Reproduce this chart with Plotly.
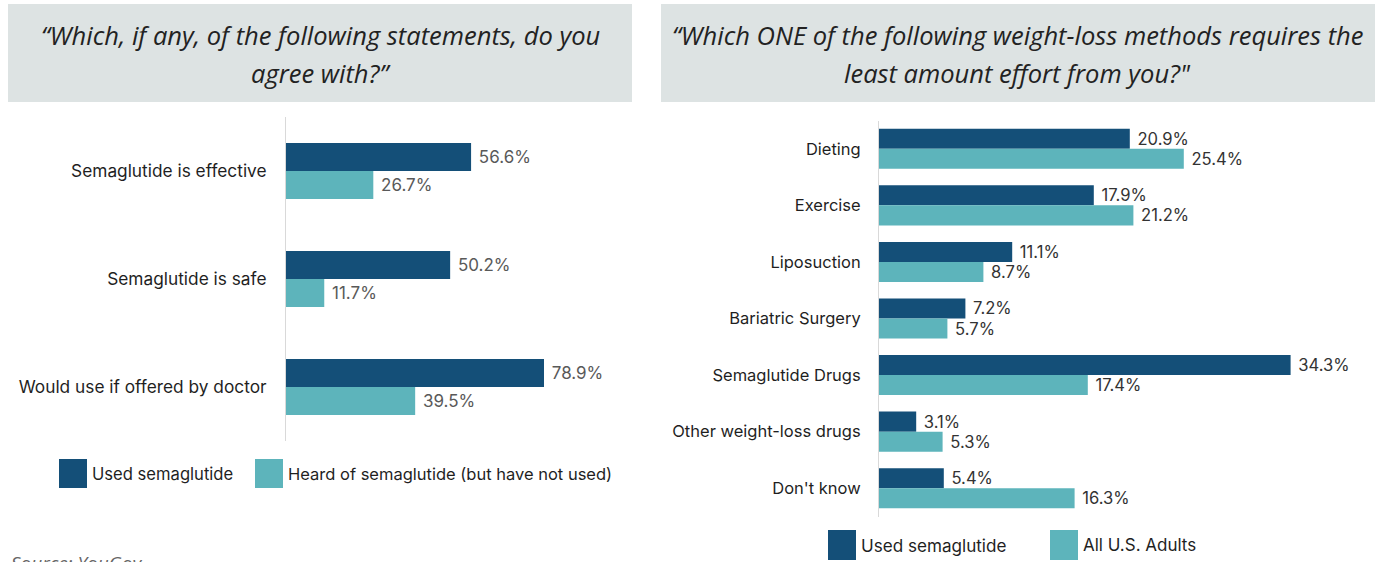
import plotly.graph_objects as go

# ---- data ----
left_categories = ["Semaglutide is effective", "Semaglutide is safe", "Would use if offered by doctor"]
left_used = [56.6, 50.2, 78.9]
left_heard = [26.7, 11.7, 39.5]
left_series_names = ["Used semaglutide", "Heard of semaglutide (but have not used)"]

right_categories = ["Dieting", "Exercise", "Liposuction", "Bariatric Surgery",
                    "Semaglutide Drugs", "Other weight-loss drugs", "Don't know"]
right_used = [20.9, 17.9, 11.1, 7.2, 34.3, 3.1, 5.4]
right_adults = [25.4, 21.2, 8.7, 5.7, 17.4, 5.3, 16.3]
right_series_names = ["Used semaglutide", "All U.S. Adults"]

left_title = ["\u201cWhich, if any, of the following statements, do you", "agree with?\u201d"]
right_title = ["\u201cWhich ONE of the following weight-loss methods requires the",
               "least amount effort from you?\""]
source_text = "Source: YouGov"

# ---- styling ----
W, H = 1383, 562
DARK = "#144f78"
LIGHT = "#5db4bb"
HEADER_BG = "#dde3e3"
LABEL_FONT = "Inter"
TITLE_FONT = "Open Sans"
VALUE_FMT = "\u00a0%{x:.1f}%"


def px_x(x):
    return x / W


def px_y(y):
    return 1 - y / H


fig = go.Figure()

# left panel bars: each bar 28px on a 108px category band
lw = 28 / 108
left_value_font = dict(family=LABEL_FONT, size=17, color="#595959")
fig.add_trace(go.Bar(
    y=left_categories, x=left_used, orientation="h", name=left_series_names[0],
    marker=dict(color=DARK, line=dict(width=0)), width=lw, offset=-lw,
    texttemplate=VALUE_FMT, textposition="outside",
    textfont=left_value_font, cliponaxis=False,
    xaxis="x", yaxis="y", showlegend=False))
fig.add_trace(go.Bar(
    y=left_categories, x=left_heard, orientation="h", name=left_series_names[1],
    marker=dict(color=LIGHT, line=dict(width=0)), width=lw, offset=0,
    texttemplate=VALUE_FMT, textposition="outside",
    textfont=left_value_font, cliponaxis=False,
    xaxis="x", yaxis="y", showlegend=False))

# right panel bars: each bar 20px on a 56.5px category band
rw = 20 / 56.5
right_value_font = dict(family=LABEL_FONT, size=16.6, color="#333333")
fig.add_trace(go.Bar(
    y=right_categories, x=right_used, orientation="h", name=right_series_names[0],
    marker=dict(color=DARK, line=dict(width=0)), width=rw, offset=-rw,
    texttemplate=VALUE_FMT, textposition="outside",
    textfont=right_value_font, cliponaxis=False,
    xaxis="x2", yaxis="y2", showlegend=False))
fig.add_trace(go.Bar(
    y=right_categories, x=right_adults, orientation="h", name=right_series_names[1],
    marker=dict(color=LIGHT, line=dict(width=0)), width=rw, offset=0,
    texttemplate=VALUE_FMT, textposition="outside",
    textfont=right_value_font, cliponaxis=False,
    xaxis="x2", yaxis="y2", showlegend=False))

# axes: left value scale 3.27 px per %, right 12.0 px per %
lx0, lx1 = 286, 640
rx0, rx1 = 879, 1372
axis_common = dict(showgrid=False, zeroline=False, showticklabels=False, fixedrange=True)
cat_common = dict(type="category", showgrid=False, zeroline=False, showline=True,
                  linecolor="#d9d9d9", linewidth=1, ticks="")

fig.update_layout(
    width=W, height=H,
    margin=dict(l=0, r=0, t=0, b=0),
    paper_bgcolor="white", plot_bgcolor="white",
    barmode="overlay",
    xaxis=dict(domain=[px_x(lx0), px_x(lx1)], range=[0, (lx1 - lx0) / 3.27],
               anchor="y", **axis_common),
    yaxis=dict(domain=[px_y(441), px_y(117)], range=[2.5, -0.5], anchor="x",
               categoryorder="array", categoryarray=left_categories,
               ticklabelstandoff=15,
               tickfont=dict(family=LABEL_FONT, size=17.3, color="#1f1f1f"), **cat_common),
    xaxis2=dict(domain=[px_x(rx0), px_x(rx1)], range=[0, (rx1 - rx0) / 12.0],
                anchor="y2", **axis_common),
    yaxis2=dict(domain=[px_y(516.5), px_y(120.5)], range=[6.5, -0.5], anchor="x2",
                categoryorder="array", categoryarray=right_categories,
                ticklabelstandoff=14,
                tickfont=dict(family=LABEL_FONT, size=16.5, color="#1f1f1f"), **cat_common),
)

shapes = []
annotations = []

# header boxes with question titles
for (x0, x1), lines in (((8, 632), left_title), ((661, 1375), right_title)):
    shapes.append(dict(type="rect", xref="paper", yref="paper",
                       x0=px_x(x0), x1=px_x(x1), y0=px_y(102), y1=px_y(4),
                       fillcolor=HEADER_BG, line=dict(width=0), layer="below"))
    for line, yc in zip(lines, (35, 73)):
        annotations.append(dict(
            text=f"<i>{line}</i>", xref="paper", yref="paper",
            x=px_x((x0 + x1) / 2), y=px_y(yc), xanchor="center", yanchor="middle",
            showarrow=False, font=dict(family=TITLE_FONT, size=25.5, color="#222222")))

# legends drawn as swatches + labels
legend_items = [
    (left_series_names[0], DARK, 59, 459, 488, 16.6),
    (left_series_names[1], LIGHT, 255, 459, 488, 16.5),
    (right_series_names[0], DARK, 828, 530, 560, 17.1),
    (right_series_names[1], LIGHT, 1050, 530, 560, 17.0),
]
for label, color, x0, y0, y1, fsize in legend_items:
    shapes.append(dict(type="rect", xref="paper", yref="paper",
                       x0=px_x(x0), x1=px_x(x0 + 28), y0=px_y(y1), y1=px_y(y0),
                       fillcolor=color, line=dict(width=0)))
    annotations.append(dict(
        text=label, xref="paper", yref="paper",
        x=px_x(x0 + 31), y=px_y((y0 + y1) / 2), xanchor="left", yanchor="middle",
        showarrow=False, font=dict(family=LABEL_FONT, size=fsize, color="#1f1f1f")))

# source note along the bottom edge
annotations.append(dict(
    text=f"<i>{source_text}</i>", xref="paper", yref="paper",
    x=px_x(9), y=px_y(548), xanchor="left", yanchor="top",
    showarrow=False, font=dict(family=TITLE_FONT, size=19, color="#666666")))

fig.update_layout(shapes=shapes, annotations=annotations)

fig.write_html("out.html")
